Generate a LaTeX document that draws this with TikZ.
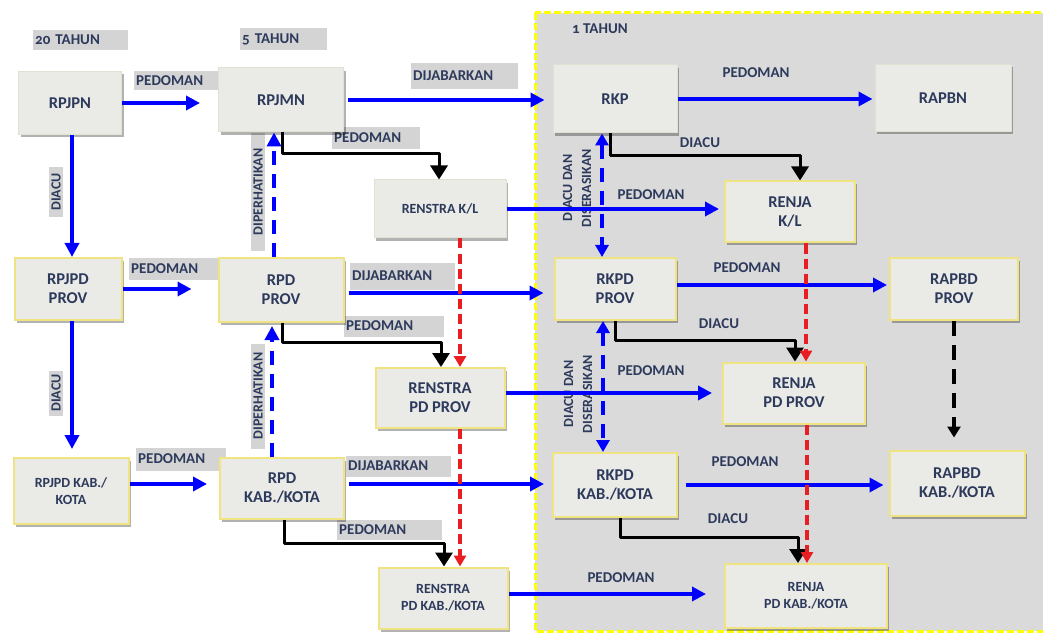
\documentclass[tikz,border=0pt]{standalone}
\usepackage{fontspec}
\setmainfont{Carlito}[Numbers=OldStyle]
\usetikzlibrary{arrows.meta,shadows}
\definecolor{color1}{RGB}{255,255,255}
\definecolor{color2}{RGB}{218,218,218}
\definecolor{color3}{RGB}{234,234,230}
\definecolor{color4}{RGB}{212,212,212}
\definecolor{color5}{RGB}{0,0,255}
\definecolor{color6}{RGB}{232,30,35}
\definecolor{color7}{RGB}{0,0,0}
\definecolor{color8}{RGB}{255,255,0}
\definecolor{color9}{RGB}{45,58,92}
\definecolor{color10}{RGB}{240,228,130}
\definecolor{color11}{RGB}{225,225,210}
\tikzset{
	box/.style={fill=color3, draw=color11, line width=1pt, text=color9, font=\bfseries\fontsize{16.5}{19}\selectfont, align=center, inner sep=2pt, drop shadow={shadow xshift=2pt, shadow yshift=-3pt, fill=black, opacity=0.3}},
	ybox/.style={box, draw=color10, line width=2pt},
	small/.style={font=\bfseries\fontsize{14}{17}\selectfont},
	lbl/.style={fill=color4, text=color9, font=\bfseries\fontsize{15}{17}\selectfont, inner sep=2pt, anchor=west, align=left, text width=#1},
	vlbl/.style={fill=color4, text=color9, font=\bfseries\fontsize{14}{17}\selectfont, inner sep=2pt, rotate=90},
	plain/.style={text=color9, font=\bfseries\fontsize{15}{19}\selectfont, align=center, inner sep=1pt},
	barrow/.style={color5, line width=3.5pt, -{Triangle[length=14pt,width=14pt]}},
	bdash/.style={barrow, dash pattern=on 14pt off 9pt},
	bboth/.style={bdash, {Triangle[length=12pt,width=13pt]}-{Triangle[length=12pt,width=13pt]}},
	elbow/.style={color7, line width=3pt, line join=round, -{Triangle[length=14pt, width=17pt]}},
	rdash/.style={color6, line width=3.5pt, dash pattern=on 10pt off 5pt, -{Triangle[length=11pt,width=12pt]}},
	kdash/.style={color7, line width=3.5pt, dash pattern=on 15pt off 9pt, -{Triangle[length=11pt,width=13pt]}}
}

\begin{document}
\begin{tikzpicture}[x=1pt, y=-1pt]
	\useasboundingbox (0,0) rectangle (1043,636);
	% 1 tahun area
	\draw[color8, line width=3pt, dash pattern=on 7pt off 3pt, fill=color2] (535,13) rectangle (1050,631);
	% period labels
	\node[lbl=91pt, minimum height=20pt] (t20) at (33,40) {20 TAHUN};
	\node[lbl=83pt, minimum height=22pt] (t5) at (240,39) {5 TAHUN};
	\node[plain, anchor=west] (t1) at (571,29) {1 TAHUN};
	% gray labels
	\node[lbl=82pt, minimum height=19pt] (l1) at (134,81) {PEDOMAN};
	\node[lbl=103pt, minimum height=26pt] (l2) at (411,76) {DIJABARKAN};
	\node[lbl=84pt, minimum height=22pt] (l3) at (332,138) {PEDOMAN};
	\node[lbl=87pt, minimum height=22pt] (l4) at (129,269) {PEDOMAN};
	\node[lbl=101pt, minimum height=27pt] (l5) at (350,276) {DIJABARKAN};
	\node[lbl=96pt, minimum height=21pt] (l6) at (344,326) {PEDOMAN};
	\node[lbl=86pt, minimum height=23pt] (l7) at (136,459) {PEDOMAN};
	\node[lbl=101pt, minimum height=21pt] (l8) at (346,466) {DIJABARKAN};
	\node[lbl=101pt, minimum height=20pt] (l9) at (337,530) {PEDOMAN};
	\node[vlbl, minimum width=50pt] (l10) at (56,192) {DIACU};
	\node[vlbl, minimum width=45pt] (l11) at (56,393) {DIACU};
	\node[vlbl, minimum width=117pt] (l12) at (258,192) {DIPERHATIKAN};
	\node[vlbl, minimum width=105pt] (l13) at (258,396) {DIPERHATIKAN};
	% labels in the 1 tahun area
	\node[plain] (l14) at (756,73) {PEDOMAN};
	\node[plain] (l15) at (700,143) {DIACU};
	\node[plain] (l16) at (651,195) {PEDOMAN};
	\node[plain, rotate=90, font=\bfseries\fontsize{14}{19}\selectfont] (l17) at (577,188) {DIACU DAN\\DISERASIKAN};
	\node[plain] (l18) at (747,268) {PEDOMAN};
	\node[plain] (l19) at (719,324) {DIACU};
	\node[plain] (l20) at (651,371) {PEDOMAN};
	\node[plain, rotate=90, font=\bfseries\fontsize{14}{19}\selectfont] (l21) at (578,394) {DIACU DAN\\DISERASIKAN};
	\node[plain] (l22) at (745,462) {PEDOMAN};
	\node[plain] (l23) at (728,519) {DIACU};
	\node[plain] (l24) at (621,578) {PEDOMAN};
	% boxes
	\node[box, minimum width=103pt, minimum height=63pt] (rpjpn) at (70,103) {RPJPN};
	\node[box, minimum width=125pt, minimum height=64pt] (rpjmn) at (281,100) {RPJMN};
	\node[ybox, minimum width=107pt, minimum height=62pt] (rpjpdprov) at (68,289) {RPJPD\\PROV};
	\node[ybox, minimum width=125pt, minimum height=64pt] (rpdprov) at (281,290) {RPD\\PROV};
	\node[box, small, minimum width=132pt, minimum height=58pt] (renstrakl) at (440,209) {RENSTRA K/L};
	\node[ybox, minimum width=129pt, minimum height=60pt] (renstrapdprov) at (440,398) {RENSTRA\\PD PROV};
	\node[ybox, small, minimum width=115pt, minimum height=66pt] (rpjpdkab) at (71,491) {RPJPD KAB./\\KOTA};
	\node[ybox, minimum width=124pt, minimum height=61pt] (rpdkab) at (282,488) {RPD\\KAB./KOTA};
	\node[ybox, small, minimum width=129pt, minimum height=61pt] (renstrapdkab) at (443,598) {RENSTRA\\PD KAB./KOTA};
	\node[box, minimum width=124pt, minimum height=68pt] (rkp) at (615,99) {RKP};
	\node[box, minimum width=136pt, minimum height=67pt] (rapbn) at (943,98) {RAPBN};
	\node[ybox, minimum width=130pt, minimum height=61pt] (renjakl) at (790,212) {RENJA\\K/L};
	\node[ybox, minimum width=121pt, minimum height=62pt] (rkpdprov) at (615,289) {RKPD\\PROV};
	\node[ybox, minimum width=128pt, minimum height=62pt] (rapbdprov) at (954,289) {RAPBD\\PROV};
	\node[ybox, minimum width=142pt, minimum height=61pt] (renjapdprov) at (794,393) {RENJA\\PD PROV};
	\node[ybox, minimum width=124pt, minimum height=64pt] (rkpdkab) at (615,485) {RKPD\\KAB./KOTA};
	\node[ybox, minimum width=135pt, minimum height=65pt] (rapbdkab) at (957,483) {RAPBD\\KAB./KOTA};
	\node[ybox, small, minimum width=162pt, minimum height=64pt] (renjapdkab) at (806,596) {RENJA\\PD KAB./KOTA};
	% pedoman / dijabarkan
	\draw[barrow, shorten >=18pt] (rpjpn.east) -- (rpjpn.east -| rpjmn.west);
	\draw[barrow, shorten <=4pt, shorten >=8pt] (rpjmn.east) -- (rpjmn.east -| rkp.west);
	\draw[barrow, shorten >=2pt] (rkp.east) -- (rkp.east -| rapbn.west);
	\draw[barrow, shorten >=26pt] (rpjpdprov.east) -- (rpjpdprov.east -| rpdprov.west);
	\draw[barrow, shorten >=12pt] ([yshift=7pt]rpjpdkab.east) -- ([yshift=7pt]rpjpdkab.east -| rpdkab.west);
	\draw[barrow, shorten <=4pt, shorten >=10pt] ([yshift=-3pt]rpdprov.east) -- ([yshift=-3pt]rpdprov.east -| rkpdprov.west);
	\draw[barrow, shorten <=4pt, shorten >=8pt] ([yshift=4pt]rpdkab.east) -- ([yshift=4pt]rpdkab.east -| rkpdkab.west);
	\draw[barrow, shorten >=5pt] (renstrakl.east) -- (renstrakl.east -| renjakl.west);
	\draw[barrow, shorten >=10pt] ([yshift=5pt]renstrapdprov.east) -- ([yshift=5pt]renstrapdprov.east -| renjapdprov.west);
	\draw[barrow, shorten >=18pt] ([yshift=4pt]renstrapdkab.east) -- ([yshift=4pt]renstrapdkab.east -| renjapdkab.west);
	\draw[barrow, shorten >=2pt] ([yshift=4pt]rkpdprov.east) -- ([yshift=4pt]rkpdprov.east -| rapbdprov.west);
	\draw[barrow, shorten <=8pt, shorten >=5pt] (rkpdkab.east) -- (rkpdkab.east -| rapbdkab.west);
	% diacu
	\draw[barrow] ([xshift=2pt]rpjpn.south) -- ([xshift=2pt]rpjpn.south |- rpjpdprov.north);
	\draw[barrow, shorten >=8pt] ([xshift=4pt]rpjpdprov.south) -- ([xshift=4pt]rpjpdprov.south |- rpjpdkab.north);
	% diperhatikan
	\draw[bdash] ([xshift=-7pt]rpdprov.north) -- ([xshift=-7pt]rpdprov.north |- rpjmn.south);
	\draw[bdash, shorten >=3pt] ([xshift=-10pt]rpdkab.north) -- ([xshift=-10pt]rpdkab.north |- rpdprov.south);
	% diacu dan diserasikan
	\draw[bboth] ([xshift=-13pt]rkp.south) -- ([xshift=-13pt]rkp.south |- rkpdprov.north);
	\draw[bboth] ([xshift=-12pt]rkpdprov.south) -- ([xshift=-12pt]rkpdprov.south |- rkpdkab.north);
	% elbows
	\draw[elbow] ([xshift=1pt]rpjmn.south) -- ++(0,21) -| ([xshift=-1pt]renstrakl.north);
	\draw[elbow] ([xshift=1pt]rpdprov.south) -- ++(0,19) -| ([xshift=1pt]renstrapdprov.north);
	\draw[elbow] ([xshift=2pt]rpdkab.south) -- ++(0,24) -| ([xshift=1pt]renstrapdkab.north);
	\draw[elbow] ([xshift=-5pt]rkp.south) -- ++(0,22) -| ([xshift=10pt]renjakl.north);
	\draw[elbow] (rkpdprov.south) -- ++(0,19) -| ([xshift=1pt]renjapdprov.north);
	\draw[elbow] ([xshift=5pt]rkpdkab.south) -- ++(0,19) -| ([xshift=-8pt]renjapdkab.north);
	% red dashed
	\draw[rdash] ([xshift=20pt]renstrakl.south) -- ([xshift=20pt]renstrakl.south |- renstrapdprov.north);
	\draw[rdash] ([xshift=20pt]renstrapdprov.south) -- ([xshift=20pt]renstrapdprov.south |- renstrapdkab.north);
	\draw[rdash] ([xshift=16pt]renjakl.south) -- ([xshift=16pt]renjakl.south |- renjapdprov.north);
	\draw[rdash] ([xshift=13pt]renjapdprov.south) -- ([xshift=13pt]renjapdprov.south |- renjapdkab.north);
	% rapbd
	\draw[kdash, shorten >=12pt] (rapbdprov.south) -- (rapbdprov.south |- rapbdkab.north);
\end{tikzpicture}
\end{document}
